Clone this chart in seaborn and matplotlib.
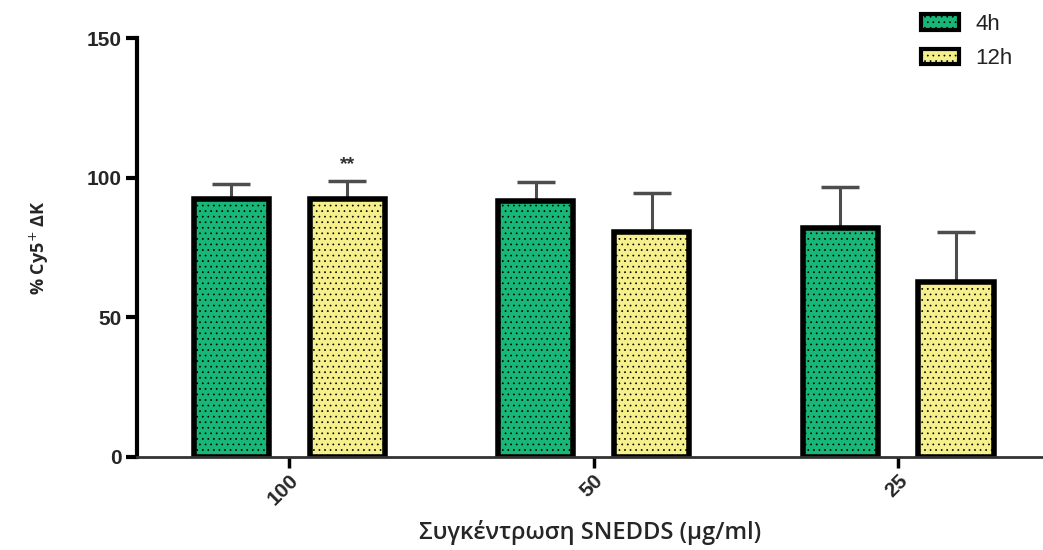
import matplotlib
matplotlib.use("Agg")
import matplotlib.pyplot as plt
import matplotlib.patches as mpatches
import seaborn as sns
import pandas as pd

# Concentrations (µg/ml) and time points
concentrations = ["100", "50", "25"]
timepoints = ["4h", "12h"]

# Mean % Cy5+ ΔK and SD (upper error only)
mean_4h = [92.5, 91.5, 82.0]
sd_4h = [5.2, 7.0, 14.6]
mean_12h = [92.5, 80.5, 62.7]
sd_12h = [6.3, 14.0, 18.0]

colors = {"4h": "#19b777", "12h": "#f6f08c"}

df = pd.DataFrame({
    "conc": concentrations * 2,
    "time": ["4h"] * 3 + ["12h"] * 3,
    "value": mean_4h + mean_12h,
    "sd": sd_4h + sd_12h,
})

sns.set_style("white")
plt.rcParams["font.family"] = ["Liberation Sans", "DejaVu Sans"]
plt.rcParams["hatch.linewidth"] = 0.5

fig = plt.figure(figsize=(10.43, 5.5), dpi=100)
ax = fig.add_axes([0.1314, 0.1691, 0.8686, 0.7618])

sns.barplot(data=df, x="conc", y="value", hue="time", order=concentrations,
            hue_order=timepoints, palette=colors, saturation=1, width=0.76,
            gap=0.35, errorbar=None, edgecolor="black", linewidth=4,
            legend=False, ax=ax, zorder=2)

# Dotted fill texture and upper error bars
for container, level in zip(ax.containers, timepoints):
    sub = df[df["time"] == level].set_index("conc").loc[concentrations]
    xs = []
    for patch in container.patches:
        patch.set_hatch("...")
        xs.append(patch.get_x() + patch.get_width() / 2)
    ax.errorbar(xs, sub["value"], yerr=[[0] * len(xs), sub["sd"]], fmt="none",
                ecolor="#4d4d4d", elinewidth=2.2, capsize=13.5, capthick=2.5,
                zorder=1)

# Significance mark over the 12h bar at 100 µg/ml
bar12 = ax.containers[1].patches[0]
ax.text(bar12.get_x() + bar12.get_width() / 2, mean_12h[0] + sd_12h[0] + 3, "**",
        ha="center", va="bottom", fontsize=14, fontweight="bold", color="#333333")

ax.set_ylim(0, 150)
ax.set_xlim(-0.5, 2.476)
ax.set_yticks([0, 50, 100, 150])
ax.set_yticklabels(["0", "50", "100", "150"], fontsize=15, fontweight="bold")
ax.set_xticks(range(len(concentrations)))
ax.set_xticklabels(concentrations, fontsize=15, fontweight="bold",
                   rotation=45, ha="right", rotation_mode="anchor")

for side in ["top", "right"]:
    ax.spines[side].set_visible(False)
ax.spines["left"].set_linewidth(3)
ax.spines["left"].set_color("black")
ax.spines["bottom"].set_linewidth(2)
ax.spines["bottom"].set_color("#333333")
ax.tick_params(axis="y", length=8, width=3, color="black", pad=3, left=True)
ax.tick_params(axis="x", length=8, width=2.5, color="black", pad=2, bottom=True)

ax.set_ylabel("% Cy5$^{+}$ ΔK", fontsize=13, fontweight="bold", labelpad=26,
              family=["Open Sans", "DejaVu Sans"])
ax.set_xlabel("Συγκέντρωση SNEDDS (μg/ml)", fontsize=17, fontweight="semibold",
              labelpad=8, family=["Open Sans", "DejaVu Sans"])

handles = [mpatches.Patch(facecolor=colors[t], edgecolor="black", linewidth=3,
                          hatch="...", label=t) for t in timepoints]
fig.legend(handles=handles, loc="upper left", bbox_to_anchor=(921 / 1043, 0.975),
           frameon=False, fontsize=16, handlelength=1.7, handleheight=0.7,
           labelspacing=0.6, handletextpad=0.75, borderpad=0, borderaxespad=0,
           labelcolor="#222222")

fig.savefig("out.png", dpi=100)
